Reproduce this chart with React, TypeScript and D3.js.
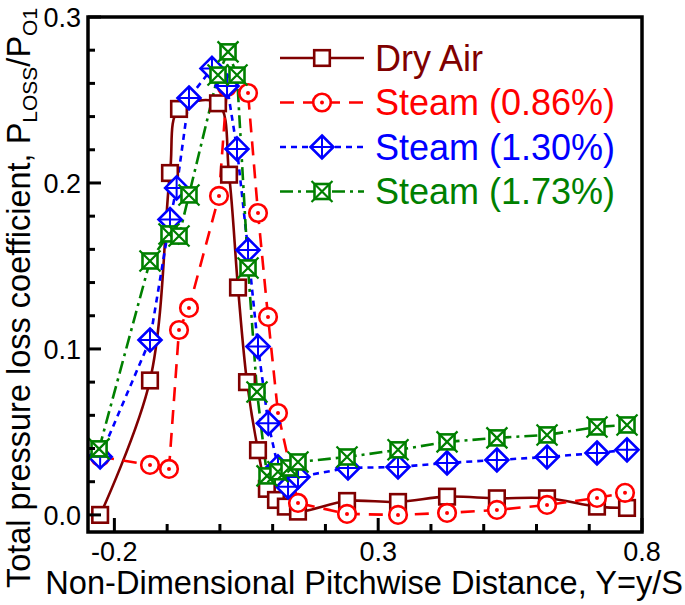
import React from 'react';
import * as d3 from 'd3';

// ---- Data ----
const dryX = [-0.227, -0.1325, -0.0946, -0.0775, -0.0036, 0.0173, 0.0343, 0.0514, 0.0722, 0.089, 0.1063, 0.125, 0.148, 0.241, 0.3376, 0.4305, 0.525, 0.62, 0.7147, 0.7716];
const dryY = [0.0, 0.081, 0.206, 0.2446, 0.248, 0.205, 0.137, 0.080, 0.039, 0.0157, 0.009, 0.005, 0.002, 0.0084, 0.0078, 0.011, 0.010, 0.010, 0.005, 0.0042];

const s086X = [-0.227, -0.1325, -0.0965, -0.0775, -0.0586, -0.0017, 0.0135, 0.0533, 0.0722, 0.0912, 0.1101, 0.148, 0.2409, 0.3376, 0.4305, 0.525, 0.62, 0.7147, 0.7678];
const s086Y = [0.035, 0.0301, 0.0277, 0.1114, 0.1247, 0.1922, 0.2578, 0.2542, 0.1819, 0.1193, 0.0614, 0.0072, 0.0006, 0.0, 0.0012, 0.003, 0.006, 0.0102, 0.0133];

const s130X = [-0.227, -0.1325, -0.0946, -0.082, -0.0586, -0.015, 0.0135, 0.0324, 0.0533, 0.0722, 0.0917, 0.1101, 0.1291, 0.148, 0.2428, 0.3376, 0.4305, 0.525, 0.62, 0.7147, 0.7716];
const s130Y = [0.035, 0.1054, 0.178, 0.197, 0.2512, 0.269, 0.2584, 0.2205, 0.1596, 0.1014, 0.0552, 0.0289, 0.0169, 0.0229, 0.0283, 0.0289, 0.0313, 0.0331, 0.0349, 0.0373, 0.0392];

const s173X = [-0.229, -0.1325, -0.0965, -0.0775, -0.0586, -0.0036, 0.0154, 0.0324, 0.0533, 0.0703, 0.0893, 0.110, 0.131, 0.148, 0.2409, 0.3376, 0.4305, 0.525, 0.62, 0.7147, 0.7716];
const s173Y = [0.0398, 0.153, 0.1693, 0.168, 0.1928, 0.265, 0.279, 0.265, 0.1488, 0.0741, 0.0235, 0.026, 0.0283, 0.0319, 0.0349, 0.0392, 0.044, 0.0464, 0.0482, 0.053, 0.0542];

const seriesNames = ['Dry Air', 'Steam (0.86%)', 'Steam (1.30%)', 'Steam (1.73%)'];
const xTickValues = [-0.2, 0.3, 0.8];
const xTickLabels = ['-0.2', '0.3', '0.8'];
const yTickValues = [0, 0.1, 0.2, 0.3];
const yTickLabels = ['0.0', '0.1', '0.2', '0.3'];

const xTitle = 'Non-Dimensional Pitchwise Distance, Y=y/S';

// ---- Layout ----
const W = 685, H = 605;
const L = 88, R = 642, T = 17, B = 532;
const FONT = "'Liberation Sans', Arial, Helvetica, sans-serif";

type MarkerType = 'square' | 'circle' | 'diamond' | 'boxx';

function Marker({ type, cx, cy, color }: { type: MarkerType; cx: number; cy: number; color: string }) {
  const sw = 2.6;
  if (type === 'square') {
    const h = 7.8;
    return <rect x={cx - h} y={cy - h} width={2 * h} height={2 * h} fill="#fff" stroke={color} strokeWidth={sw} />;
  }
  if (type === 'circle') {
    return (
      <g>
        <circle cx={cx} cy={cy} r={8.8} fill="#fff" stroke={color} strokeWidth={sw} />
        <circle cx={cx} cy={cy} r={2} fill={color} />
      </g>
    );
  }
  if (type === 'diamond') {
    const h = 11.5;
    return (
      <g>
        <path d={`M${cx},${cy - h}L${cx + h},${cy}L${cx},${cy + h}L${cx - h},${cy}Z`} fill="#fff" stroke={color} strokeWidth={sw} />
        <path d={`M${cx},${cy - h}L${cx},${cy + h}M${cx - h},${cy}L${cx + h},${cy}`} stroke={color} strokeWidth={2} />
      </g>
    );
  }
  const h = 7.5, e = 10.5;
  return (
    <g>
      <rect x={cx - h} y={cy - h} width={2 * h} height={2 * h} fill="#fff" stroke={color} strokeWidth={sw} />
      <path d={`M${cx - e},${cy - e}L${cx + e},${cy + e}M${cx - e},${cy + e}L${cx + e},${cy - e}`} stroke={color} strokeWidth={2.2} />
    </g>
  );
}

export default function App() {
  const x = d3.scaleLinear().domain([-0.25, 0.8]).range([L, R]);
  const y = d3.scaleLinear().domain([-0.0103, 0.3]).range([B, T]);

  const series = [
    { name: seriesNames[0], xs: dryX, ys: dryY, color: '#800000', dash: undefined as string | undefined, curve: d3.curveCatmullRom.alpha(0.5), marker: 'square' as MarkerType },
    { name: seriesNames[1], xs: s086X, ys: s086Y, color: '#ff0000', dash: '14,9', curve: d3.curveLinear, marker: 'circle' as MarkerType },
    { name: seriesNames[2], xs: s130X, ys: s130Y, color: '#0000ff', dash: '6,5', curve: d3.curveLinear, marker: 'diamond' as MarkerType },
    { name: seriesNames[3], xs: s173X, ys: s173Y, color: '#008000', dash: '13,5,3,5', curve: d3.curveLinear, marker: 'boxx' as MarkerType },
  ];

  const minorX = x.ticks(10);
  const minorY = d3.range(0, 0.3001, 0.02);

  const legendY = [58, 102.5, 147, 191.5];

  return (
    <svg width={W} height={H} style={{ position: 'absolute', left: 0, top: 0, background: '#fff' }} fontFamily={FONT}>
      <rect x={0} y={0} width={W} height={H} fill="#fff" />
      <defs>
        <clipPath id="plotclip">
          <rect x={L} y={T} width={R - L} height={B - T} />
        </clipPath>
      </defs>

      {/* series */}
      <g clipPath="url(#plotclip)">
        {series.map((s, si) => {
          const pts = s.xs.map((v, i) => [x(v), y(s.ys[i])] as [number, number]);
          const line = d3.line().curve(s.curve)(pts) || '';
          return (
            <g key={si}>
              <path d={line} fill="none" stroke={s.color} strokeWidth={2.6} strokeDasharray={s.dash} />
            </g>
          );
        })}
      </g>
      {series.map((s, si) => (
        <g key={'m' + si}>
          {s.xs.map((v, i) => (
            <Marker key={i} type={s.marker} cx={x(v)} cy={y(s.ys[i])} color={s.color} />
          ))}
        </g>
      ))}

      {/* ticks */}
      {minorX.map((t, i) => {
        const major = xTickValues.some(v => Math.abs(v - t) < 1e-9);
        return <line key={'xt' + i} x1={x(t)} x2={x(t)} y1={B} y2={B - (major ? 14 : 8)} stroke="#000" strokeWidth={3} />;
      })}
      {minorY.map((t, i) => {
        const major = yTickValues.some(v => Math.abs(v - t) < 1e-9);
        return <line key={'yt' + i} x1={L} x2={L + (major ? 13 : 7)} y1={y(t)} y2={y(t)} stroke="#000" strokeWidth={3} />;
      })}

      {/* axes box */}
      <rect x={L} y={T} width={R - L} height={B - T} fill="none" stroke="#000" strokeWidth={3.5} />

      {/* tick labels */}
      {xTickValues.map((v, i) => (
        <text key={'xl' + i} x={x(v)} y={561} textAnchor="middle" fontSize={27} fill="#000">{xTickLabels[i]}</text>
      ))}
      {yTickValues.map((v, i) => (
        <text key={'yl' + i} x={81} y={y(v)} dy="0.36em" textAnchor="end" fontSize={27} fill="#000">{yTickLabels[i]}</text>
      ))}

      {/* axis titles */}
      <text x={683} y={594} textAnchor="end" fontSize={32.6} fill="#000">{xTitle}</text>
      <text transform="translate(30,298) rotate(-90)" textAnchor="middle" fontSize={32.5} fill="#000">
        Total pressure loss coefficient, P
        <tspan fontSize={21} dy={7}>LOSS</tspan>
        <tspan dy={-7}>/P</tspan>
        <tspan fontSize={21} dy={7}>O1</tspan>
      </text>

      {/* legend */}
      {series.map((s, i) => (
        <g key={'lg' + i}>
          <line x1={280} x2={364} y1={legendY[i]} y2={legendY[i]} stroke={s.color} strokeWidth={2.6} strokeDasharray={s.dash} />
          <Marker type={s.marker} cx={322} cy={legendY[i]} color={s.color} />
          <text x={375} y={legendY[i] + 12.5} fontSize={36} fill={s.color}>{s.name}</text>
        </g>
      ))}
    </svg>
  );
}
